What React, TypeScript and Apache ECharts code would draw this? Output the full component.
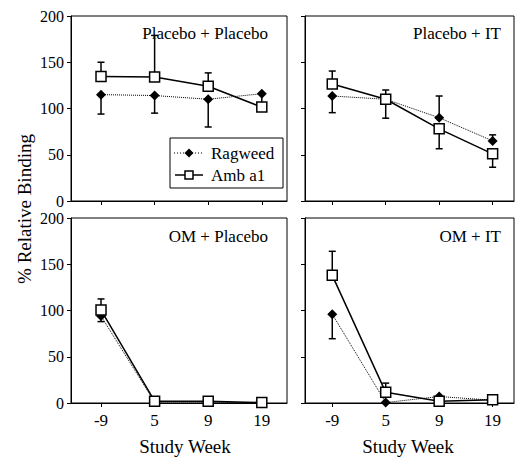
import React, { useEffect, useRef } from "react";
import * as echarts from "echarts";

const weeks = ["-9", "5", "9", "19"];
const panelNames = ["Placebo + Placebo", "Placebo + IT", "OM + Placebo", "OM + IT"];

const ragweedMean = [
  [115, 114, 110, 116],
  [113.5, 110, 90, 65],
  [94, 1, 1, 0],
  [96, 0.5, 7, 3],
];
const ragweedLow = [
  [94, 95, 80, 104],
  [95.5, null, null, null],
  [88, null, null, null],
  [69.5, null, null, null],
];
const ragweedHigh = [
  [null, null, null, null],
  [null, null, 113.5, 71.5],
  [null, null, null, null],
  [null, null, null, null],
];
const ambMean = [
  [134.5, 134, 124, 101.5],
  [126.5, 110, 78, 51],
  [100.5, 2, 2, 0.5],
  [138, 11.5, 2, 3.5],
];
const ambHigh = [
  [150, 179, 138.5, null],
  [140.5, 120, null, null],
  [112.5, null, null, null],
  [164, 21.5, null, null],
];
const ambLow = [
  [null, null, null, null],
  [null, 89.5, 56.5, 36.5],
  [null, null, null, null],
  [null, null, null, null],
];

const FONT = "'Liberation Serif', 'Times New Roman', serif";

const grids = [
  { left: 71, top: 16, width: 216, height: 185, xmin: -0.56, xmax: 3.47 },
  { left: 305, top: 16, width: 209, height: 185, xmin: -0.51, xmax: 3.4 },
  { left: 71, top: 218, width: 216, height: 185, xmin: -0.56, xmax: 3.47 },
  { left: 305, top: 218, width: 209, height: 185, xmin: -0.51, xmax: 3.4 },
];

function errData(mean: number[], ends: (number | null)[]) {
  const out: number[][] = [];
  ends.forEach((e, i) => {
    if (e !== null && e !== undefined) out.push([i, mean[i], e]);
  });
  return out;
}

const renderErr = (params: any, api: any) => {
  const x = api.value(0);
  const v = api.value(1);
  const e = api.value(2);
  const p0 = api.coord([x, v]);
  const p1 = api.coord([x, e]);
  return {
    type: "group",
    children: [
      {
        type: "line",
        shape: { x1: p0[0], y1: p0[1], x2: p1[0], y2: p1[1] },
        style: { stroke: "#000", lineWidth: 1.5 },
      },
      {
        type: "line",
        shape: { x1: p1[0] - 3.5, y1: p1[1], x2: p1[0] + 3.5, y2: p1[1] },
        style: { stroke: "#000", lineWidth: 1.5 },
      },
    ],
  };
};

export default function App() {
  const ref = useRef<HTMLDivElement>(null);
  useEffect(() => {
    if (!ref.current) return;
    const chart = echarts.init(ref.current, null, { renderer: "svg" });
    const gridOpts = grids.map((g) => ({
      left: g.left,
      top: g.top,
      width: g.width,
      height: g.height,
      show: true,
      borderColor: "#000",
      borderWidth: 1,
      backgroundColor: "transparent",
    }));
    const xAxes = grids.map((g, i) => ({
      type: "value",
      gridIndex: i,
      min: g.xmin,
      max: g.xmax,
      splitLine: { show: false },
      axisLine: { show: true, onZero: false, lineStyle: { color: "#000", width: 1 } },
      axisTick: {
        show: true,
        length: 4,
        inside: false,
        customValues: [0, 1, 2, 3],
        lineStyle: { color: "#000", width: 1 },
      },
      axisLabel: {
        show: i >= 2,
        customValues: [0, 1, 2, 3],
        formatter: (v: number) => weeks[Math.round(v)] ?? "",
        color: "#000",
        fontFamily: FONT,
        fontSize: 17,
        margin: 9,
      },
    }));
    const yAxes = grids.map((g, i) => ({
      type: "value",
      gridIndex: i,
      min: 0,
      max: 200,
      interval: 50,
      splitLine: { show: false },
      axisLine: { show: true, onZero: false, lineStyle: { color: "#000", width: 1 } },
      axisTick: { show: true, length: 4, inside: false, lineStyle: { color: "#000", width: 1 } },
      axisLabel: {
        show: i % 2 === 0,
        color: "#000",
        fontFamily: FONT,
        fontSize: 16,
        lineHeight: 12,
        margin: 7,
      },
    }));
    const series: any[] = [];
    grids.forEach((g, i) => {
      const errSets = [
        errData(ragweedMean[i], ragweedLow[i]),
        errData(ragweedMean[i], ragweedHigh[i]),
        errData(ambMean[i], ambLow[i]),
        errData(ambMean[i], ambHigh[i]),
      ];
      errSets.forEach((d) => {
        if (d.length)
          series.push({
            type: "custom",
            xAxisIndex: i,
            yAxisIndex: i,
            renderItem: renderErr,
            data: d,
            encode: { x: 0, y: [1, 2] },
            z: 1,
            silent: true,
          });
      });
      series.push({
        type: "line",
        name: "Ragweed",
        xAxisIndex: i,
        yAxisIndex: i,
        data: ragweedMean[i].map((v, k) => [k, v]),
        symbol: "diamond",
        symbolSize: 10,
        showAllSymbol: true,
        lineStyle: { color: "#000", width: 1, type: "dotted" },
        itemStyle: { color: "#000" },
        z: 3,
      });
      series.push({
        type: "line",
        name: "Amb a1",
        xAxisIndex: i,
        yAxisIndex: i,
        data: ambMean[i].map((v, k) => [k, v]),
        symbol: "rect",
        symbolSize: 10,
        showAllSymbol: true,
        lineStyle: { color: "#000", width: 1.5 },
        itemStyle: { color: "#fff", borderColor: "#000", borderWidth: 1.5 },
        z: 4,
      });
    });

    const titlePos = [
      { x: 268, y: 33 },
      { x: 501, y: 33 },
      { x: 268, y: 236 },
      { x: 501, y: 236 },
    ];
    const graphics: any[] = panelNames.map((t, i) => ({
      type: "text",
      x: titlePos[i].x,
      y: titlePos[i].y,
      style: {
        text: t,
        fontFamily: FONT,
        fontSize: 17,
        fill: "#000",
        align: "right",
        verticalAlign: "middle",
      },
      z: 10,
    }));
    graphics.push(
      {
        type: "text",
        x: 24,
        y: 209,
        rotation: Math.PI / 2,
        style: {
          text: "% Relative Binding",
          fontFamily: FONT,
          fontSize: 19,
          fill: "#000",
          align: "center",
          verticalAlign: "middle",
        },
      },
      {
        type: "text",
        x: 185,
        y: 446,
        style: { text: "Study Week", fontFamily: FONT, fontSize: 19, fill: "#000", align: "center", verticalAlign: "middle" },
      },
      {
        type: "text",
        x: 408,
        y: 446,
        style: { text: "Study Week", fontFamily: FONT, fontSize: 19, fill: "#000", align: "center", verticalAlign: "middle" },
      },
      // legend
      {
        type: "rect",
        shape: { x: 170, y: 138, width: 113, height: 50 },
        style: { fill: "#fff", stroke: "#000", lineWidth: 1 },
        z: 10,
      },
      {
        type: "line",
        shape: { x1: 174, y1: 153, x2: 204, y2: 153 },
        style: { stroke: "#000", lineWidth: 1, lineDash: [1, 2] },
        z: 11,
      },
      {
        type: "polygon",
        shape: { points: [[189, 148.5], [193.5, 153], [189, 157.5], [184.5, 153]] },
        style: { fill: "#000" },
        z: 12,
      },
      {
        type: "text",
        x: 211,
        y: 153,
        style: { text: "Ragweed", fontFamily: FONT, fontSize: 17, fill: "#000", align: "left", verticalAlign: "middle" },
        z: 12,
      },
      {
        type: "line",
        shape: { x1: 175, y1: 175, x2: 203, y2: 175 },
        style: { stroke: "#000", lineWidth: 1.5 },
        z: 11,
      },
      {
        type: "rect",
        shape: { x: 185, y: 171, width: 8, height: 8 },
        style: { fill: "#fff", stroke: "#000", lineWidth: 1.5 },
        z: 12,
      },
      {
        type: "text",
        x: 211,
        y: 175,
        style: { text: "Amb a1", fontFamily: FONT, fontSize: 17, fill: "#000", align: "left", verticalAlign: "middle" },
        z: 12,
      }
    );

    chart.setOption({
      animation: false,
      backgroundColor: "#fff",
      grid: gridOpts,
      xAxis: xAxes,
      yAxis: yAxes,
      series,
      graphic: graphics,
    });
    return () => chart.dispose();
  }, []);
  return (
    <div
      ref={ref}
      style={{ position: "fixed", left: 0, top: 0, width: 516, height: 457 }}
    />
  );
}
